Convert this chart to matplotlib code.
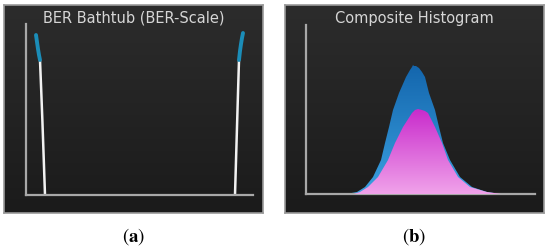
import numpy as np
import matplotlib
matplotlib.use("Agg")
import matplotlib.pyplot as plt
from matplotlib.colors import LinearSegmentedColormap

# BER bathtub (x = position along the unit interval, y = -log BER scale)
left_blue_x = [10, 11, 12, 13, 14]
left_blue_y = [160, 153, 146, 140, 135]
left_white_x = [14, 15.2, 16.4, 17.6, 19]
left_white_y = [135, 105, 74, 40, 0]
right_white_x = [209, 210, 211, 212, 213]
right_white_y = [0, 34, 68, 102, 135]
right_blue_x = [213, 214, 215, 216, 217]
right_blue_y = [135, 144, 151, 157, 162]

# composite histogram: bin position and hits for total (blue) and sub-population (magenta)
blue_x = [40, 51, 59, 67, 75, 79, 83, 87, 93, 100, 104, 106, 107, 108, 110, 113, 116,
          119, 123, 129, 133, 137, 144, 154, 166, 181, 195]
blue_y = [0, 2, 7, 17, 34, 51, 67, 84, 101, 117, 124, 127, 129, 128, 128, 126, 122,
          117, 101, 84, 67, 51, 34, 17, 7, 2, 0]
mag_x = [48, 54, 62, 72, 82, 89, 97, 106, 109, 112, 116, 119, 122, 129, 136, 142, 152,
         164, 181, 195]
mag_y = [0, 2, 7, 17, 34, 51, 67, 81, 84, 85, 84, 83, 81, 67, 51, 34, 17,
         7, 2, 0]

titles = ["BER Bathtub (BER-Scale)", "Composite Histogram"]
labels = ["a", "b"]

W, H = 550, 248
fig = plt.figure(figsize=(5.5, 2.48), dpi=100)
fig.patch.set_facecolor("white")
plt.rcParams["mathtext.fontset"] = "stix"


def px_axes(x0, y0, x1, y1):
    # axes placed by pixel box (top-left origin)
    return fig.add_axes([x0 / W, 1 - y1 / H, (x1 - x0) / W, (y1 - y0) / H])


def panel(x0, y0, x1, y1, title, label):
    bg = px_axes(x0, y0, x1, y1)
    grad = np.linspace(0, 1, 100).reshape(-1, 1)
    cmap = LinearSegmentedColormap.from_list("bg", ["#2c2c2c", "#1b1b1b"])
    bg.imshow(grad, aspect="auto", cmap=cmap, extent=[0, 1, 0, 1], origin="upper")
    bg.set_xlim(0, 1)
    bg.set_ylim(0, 1)
    bg.set_xticks([])
    bg.set_yticks([])
    for s in bg.spines.values():
        s.set_color("#9a9a9a")
        s.set_linewidth(1.2)
    bg.text(0.5, 1 - 13 / (y1 - y0), title, color="#d6d6d6", fontsize=10.5, ha="center",
            va="center", family="DejaVu Sans", transform=bg.transAxes)
    fig.text((x0 + x1) / 2 / W, 1 - 237 / H, r"$(\mathbf{%s})$" % label, fontsize=13.5,
             ha="center", va="center", color="black")


def plot_axes(x0, y0, x1, y1, xmax, ymax):
    ax = px_axes(x0, y0, x1, y1)
    ax.patch.set_visible(False)
    ax.set_xlim(0, xmax)
    ax.set_ylim(0, ymax)
    ax.set_xticks([])
    ax.set_yticks([])
    for k in ["top", "right"]:
        ax.spines[k].set_visible(False)
    for k in ["left", "bottom"]:
        ax.spines[k].set_color("#a8a8a8")
        ax.spines[k].set_linewidth(1.6)
    return ax


def gradient_fill(ax, x, y, colors, z):
    poly = ax.fill_between(x, 0, y, color="none", lw=0, zorder=z)
    cmap = LinearSegmentedColormap.from_list("g", colors)
    grad = np.linspace(0, 1, 100).reshape(-1, 1)
    im = ax.imshow(grad, aspect="auto", cmap=cmap, origin="upper",
                   extent=[min(x), max(x), 0, max(y)], zorder=z)
    im.set_clip_path(poly.get_paths()[0], transform=ax.transData)


# panel (a)
panel(4, 5, 263, 213, titles[0], labels[0])
ax1 = plot_axes(26, 24, 253, 195, 227, 171)
ax1.plot(left_white_x, left_white_y, color="#f2f2f2", lw=1.8, solid_capstyle="butt")
ax1.plot(right_white_x, right_white_y, color="#f2f2f2", lw=1.8, solid_capstyle="butt")
ax1.plot(left_blue_x, left_blue_y, color="#1b8db8", lw=2.8, solid_capstyle="round")
ax1.plot(right_blue_x, right_blue_y, color="#1b8db8", lw=2.8, solid_capstyle="round")

# panel (b)
panel(285, 5, 544, 213, titles[1], labels[1])
ax2 = plot_axes(306, 25, 535, 194, 229, 169)
gradient_fill(ax2, blue_x, blue_y, ["#1466ad", "#3aa0e0"], 2)
gradient_fill(ax2, mag_x, mag_y, ["#c92ccc", "#f0a2ea"], 3)
ax2.set_xlim(0, 229)
ax2.set_ylim(0, 169)

fig.savefig("out.png", dpi=100, facecolor="white")
